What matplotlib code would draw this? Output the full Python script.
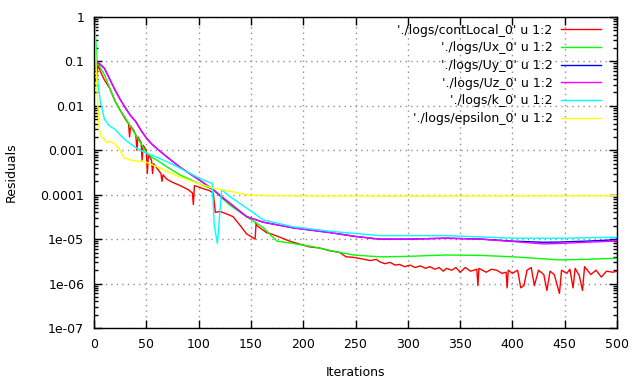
import numpy as np
from matplotlib import pyplot as plt
from matplotlib.ticker import LogLocator, NullFormatter

## donnees (iteration, residu)

it_cont = [0, 2, 4, 6, 10, 15, 20, 25, 30, 33, 34, 35, 38, 40, 41, 42, 45, 46, 47, 50, 51, 52, 55, 56, 57,
           60, 64, 65, 66, 70, 75, 80, 85, 90, 94, 95, 96, 100, 105, 110, 114, 116, 120, 123, 128, 133,
           140, 146, 150, 154, 155, 156, 160, 165, 170, 178, 187, 197, 206, 216, 225, 235, 241, 248, 256,
           264, 270, 273, 278, 283, 288, 292, 297, 302, 307, 312, 317, 321, 326, 330, 334, 337, 342, 346,
           350, 355, 360, 366, 367, 368, 375, 380, 385, 390,
           394, 395, 396, 400, 405, 408, 411, 414, 418, 421, 425, 430, 433, 436, 440, 445, 447, 452, 455,
           458, 460, 464, 467, 469, 475, 480, 485, 490, 496, 500]
res_cont = [4.5e-2, 3.5e-2, 9e-2, 6e-2, 3.8e-2, 2.5e-2, 1.3e-2, 8e-3, 5e-3, 4e-3, 2e-3, 3.5e-3, 2.8e-3,
            2.2e-3, 1e-3, 2e-3, 1.5e-3, 6e-4, 1.3e-3, 1e-3, 3e-4, 8e-4, 6e-4, 3e-4, 5e-4,
            4e-4, 3e-4, 2e-4, 2.8e-4, 2.2e-4, 1.9e-4, 1.7e-4, 1.5e-4, 1.3e-4, 1.1e-4, 6e-5, 1.6e-4,
            1.5e-4, 1.35e-4, 1.25e-4, 1.1e-4, 4e-5, 4.2e-5, 4e-5, 3.6e-5, 3.2e-5,
            2e-5, 1.3e-5, 1.15e-5, 1e-5, 2.3e-5, 2e-5, 1.7e-5, 1.4e-5, 1.3e-5, 1.1e-5, 9e-6, 7.7e-6,
            6.7e-6, 6.3e-6, 5.5e-6, 5e-6, 4e-6, 3.9e-6, 3.6e-6,
            3.3e-6, 3.5e-6, 3.1e-6, 2.8e-6, 3e-6, 2.6e-6, 2.7e-6, 2.4e-6, 2.6e-6, 2.3e-6, 2.5e-6, 2.2e-6,
            2.4e-6, 2.1e-6, 2.3e-6, 1.9e-6, 2.2e-6, 2e-6, 2.3e-6,
            1.8e-6, 2.3e-6, 1.9e-6, 2.1e-6, 9e-7, 2.2e-6, 1.8e-6, 2.1e-6, 2e-6, 1.7e-6,
            1.8e-6, 8e-7, 2e-6, 1.7e-6, 2e-6, 8e-7, 9e-7, 2e-6, 2.3e-6, 9e-7, 2e-6, 1.6e-6, 7e-7,
            1.9e-6, 1.6e-6, 6e-7, 2e-6, 1.7e-6, 2.1e-6,
            8e-7, 2.2e-6, 1.5e-6, 7e-7, 2.4e-6, 1.6e-6, 2e-6, 1.4e-6, 1.9e-6, 1.8e-6, 1.9e-6]

it_ux = [0, 1, 3, 5, 10, 15, 20, 25, 30, 35, 40, 45, 50, 55, 60, 70, 82, 100, 114, 122, 130, 146, 162,
         175, 190, 210, 230, 248, 273, 300, 337, 370, 401, 430, 445, 470, 496, 500]
res_ux = [1.0, 0.5, 0.1, 0.08, 0.05, 0.025, 0.013, 8e-3, 5.3e-3, 3.4e-3, 2.2e-3, 1.4e-3, 9e-4, 7e-4,
          6e-4, 4.2e-4, 2.8e-4, 1.8e-4, 1.3e-4, 8.5e-5, 5.8e-5, 3.2e-5, 1.8e-5,
          9e-6, 8e-6, 6.7e-6, 5.3e-6, 4.4e-6, 4e-6, 4.1e-6, 4.4e-6, 4.3e-6, 4e-6, 3.6e-6, 3.4e-6,
          3.5e-6, 3.7e-6, 3.7e-6]

it_u = [0, 3, 5, 10, 15, 20, 25, 30, 35, 40, 45, 50, 55, 60, 70, 82, 100, 114, 122, 130, 146, 162,
        190, 226, 250, 273, 300, 337, 370, 401, 430, 445, 470, 496, 500]
res_uy = [0.06, 0.1, 0.09, 0.07, 0.04, 0.023, 0.014, 9e-3, 6e-3, 4.4e-3, 2.8e-3, 1.9e-3, 1.4e-3,
          1.1e-3, 7e-4, 4.2e-4, 2.2e-4, 1.3e-4, 9e-5, 6.4e-5, 3.2e-5, 2.4e-5,
          1.8e-5, 1.4e-5, 1.15e-5, 1e-5, 1e-5, 1.05e-5, 1e-5, 9e-6, 8.5e-6, 8.6e-6, 9e-6, 9.6e-6, 1e-5]
res_uz = [0.06, 0.1, 0.09, 0.07, 0.04, 0.023, 0.014, 9e-3, 6e-3, 4.4e-3, 2.8e-3, 1.9e-3, 1.4e-3,
          1.1e-3, 7e-4, 4.2e-4, 2.2e-4, 1.3e-4, 9e-5, 6.4e-5, 3.2e-5, 2.4e-5,
          1.8e-5, 1.4e-5, 1.15e-5, 1e-5, 1e-5, 1.05e-5, 1e-5, 8.8e-6, 7.8e-6, 8e-6, 8.5e-6, 9e-6, 9.2e-6]

it_k = [0, 1, 2, 4, 6, 10, 15, 20, 25, 30, 40, 50, 60, 70, 82, 100, 110, 113, 115, 118, 122, 130, 146,
        162, 190, 226, 273, 337, 401, 450, 496, 500]
res_k = [1.0, 0.5, 0.08, 0.03, 0.013, 5e-3, 3.5e-3, 3e-3, 2.2e-3, 1.7e-3, 1.15e-3, 8.6e-4, 7e-4,
         5.5e-4, 4e-4, 2.4e-4, 1.9e-4, 1.8e-4, 2e-5, 8e-6, 1.3e-4, 9e-5, 5e-5,
         2.7e-5, 1.9e-5, 1.5e-5, 1.2e-5, 1.2e-5, 1.05e-5, 1.05e-5, 1.1e-5, 1.1e-5]

it_eps = [0, 1, 3, 5, 7, 10, 12, 15, 20, 25, 28, 35, 50, 65, 82, 100, 114, 130, 146, 160, 200, 300,
          400, 500]
res_eps = [1.0, 0.3, 0.02, 3e-3, 2e-3, 1.8e-3, 1.5e-3, 1.6e-3, 1.4e-3, 1e-3, 7e-4, 6e-4, 5.4e-4,
           3.8e-4, 2.5e-4, 1.8e-4, 1.4e-4, 1.2e-4, 1e-4, 9.6e-5, 9.4e-5, 9.3e-5, 9.4e-5, 9.5e-5]

labels = ["'./logs/contLocal_0' u 1:2", "'./logs/Ux_0' u 1:2", "'./logs/Uy_0' u 1:2",
          "'./logs/Uz_0' u 1:2", "'./logs/k_0' u 1:2", "'./logs/epsilon_0' u 1:2"]
couleurs = ['#ff0000', '#00ff00', '#0000ff', '#ff00ff', '#00ffff', '#ffff00']

ytick_val = [1, 0.1, 0.01, 0.001, 0.0001, 1e-5, 1e-6, 1e-7]
ytick_lab = ['1', '0.1', '0.01', '0.001', '0.0001', '1e-05', '1e-06', '1e-07']

## graphique

plt.rcParams['font.family'] = 'DejaVu Sans'
plt.rcParams['font.size'] = 9

fig = plt.figure(figsize=(6.4, 3.84), dpi=100)
ax = fig.add_axes([94/640, 1-328/384, (617-94)/640, (328-17)/384])

series = [(it_cont, res_cont), (it_ux, res_ux), (it_u, res_uy), (it_u, res_uz), (it_k, res_k), (it_eps, res_eps)]
for (x, y), c, lab in zip(series, couleurs, labels):
    ax.plot(x, y, color=c, linewidth=1, label=lab)

ax.set_yscale('log')
ax.set_xlim(0, 500)
ax.set_ylim(1e-7, 1)
ax.set_xticks(np.arange(0, 501, 50))
ax.set_yticks(ytick_val)
ax.set_yticklabels(ytick_lab)
ax.yaxis.set_minor_locator(LogLocator(base=10, subs=np.arange(2, 10)))
ax.yaxis.set_minor_formatter(NullFormatter())

ax.grid(True, which='major', color='#909090', linestyle=(0, (1, 3)), linewidth=1)
ax.tick_params(which='both', direction='in', top=True, right=True, width=1)
ax.tick_params(which='major', length=6, pad=7)
ax.tick_params(which='minor', length=3)
for s in ax.spines.values():
    s.set_linewidth(1)

ax.set_xlabel('Iterations', labelpad=11)
ax.set_ylabel('Residuals', labelpad=16)

ax.legend(loc='upper right', bbox_to_anchor=(0.969, 0.978), frameon=False, markerfirst=False,
          handlelength=3.2, labelspacing=0.37, borderpad=0, borderaxespad=0, handletextpad=0.65)

plt.savefig('out.png', dpi=100)
